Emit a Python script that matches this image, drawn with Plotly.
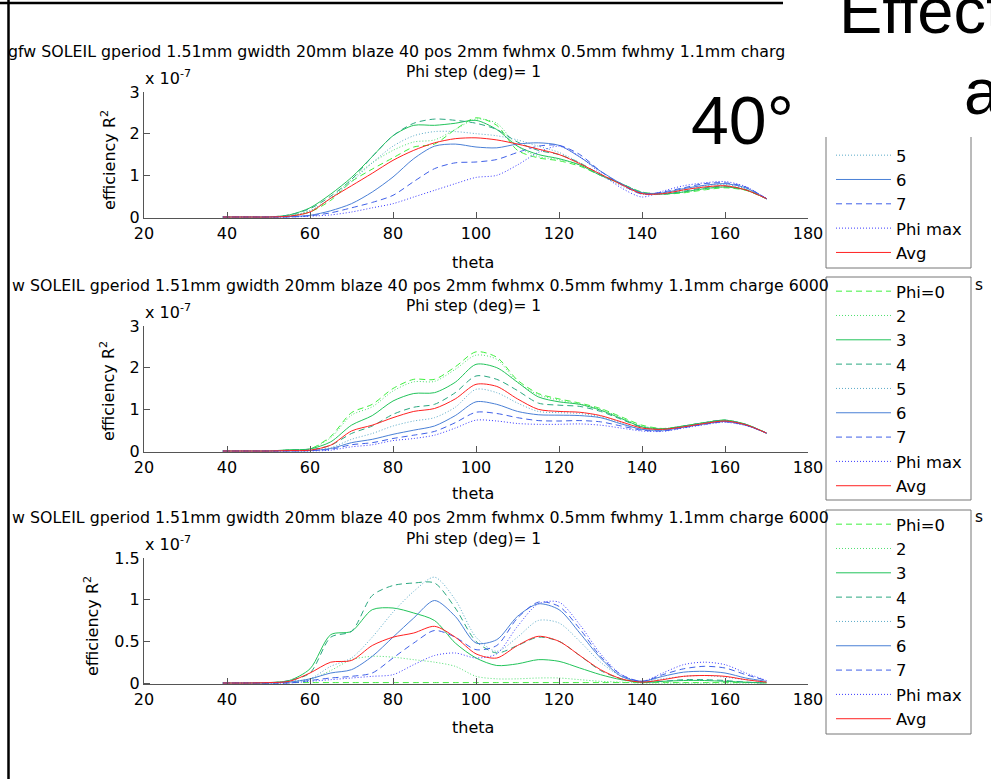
import plotly.graph_objects as go

W, H = 991, 779

# ---------------- data (efficiency R^2, units of 1e-7) ----------------
theta = [39, 45, 50, 55, 60, 65, 70, 75, 80, 85, 90, 95, 100, 105, 110, 115, 120,
         125, 130, 135, 140, 145, 150, 155, 160, 165, 170]

series_names = ["Phi=0", "2", "3", "4", "5", "6", "7", "Phi max", "Avg"]

p1_phi0 = [0, 0, 0, 0.02, 0.12, 0.40, 0.85, 1.15, 1.42, 1.68, 1.75, 2.10, 2.38, 2.20, 1.60, 1.42, 1.35, 1.22, 1.00, 0.80, 0.60, 0.55, 0.58, 0.65, 0.70, 0.64, 0.44]
p1_2    = [0, 0, 0, 0.03, 0.15, 0.45, 0.90, 1.30, 1.60, 1.80, 1.85, 2.10, 2.35, 2.25, 1.70, 1.45, 1.38, 1.25, 1.00, 0.80, 0.60, 0.55, 0.60, 0.67, 0.72, 0.65, 0.44]
p1_3    = [0, 0, 0, 0.05, 0.22, 0.55, 0.95, 1.45, 1.95, 2.20, 2.20, 2.25, 2.32, 2.10, 1.70, 1.50, 1.40, 1.25, 1.00, 0.80, 0.58, 0.55, 0.60, 0.68, 0.72, 0.65, 0.44]
p1_4    = [0, 0, 0, 0.05, 0.20, 0.50, 0.90, 1.45, 1.95, 2.25, 2.35, 2.32, 2.25, 2.10, 1.80, 1.60, 1.50, 1.30, 1.02, 0.80, 0.58, 0.55, 0.62, 0.70, 0.74, 0.66, 0.44]
p1_5    = [0, 0, 0, 0.03, 0.15, 0.45, 0.85, 1.30, 1.70, 1.95, 2.05, 2.05, 2.00, 1.95, 1.85, 1.70, 1.55, 1.30, 1.00, 0.75, 0.55, 0.55, 0.65, 0.75, 0.78, 0.68, 0.44]
p1_6    = [0, 0, 0, 0.01, 0.04, 0.15, 0.32, 0.60, 0.96, 1.40, 1.70, 1.75, 1.68, 1.66, 1.75, 1.78, 1.72, 1.44, 1.10, 0.80, 0.58, 0.58, 0.68, 0.76, 0.80, 0.70, 0.44]
p1_7    = [0, 0, 0, 0.00, 0.03, 0.10, 0.22, 0.35, 0.52, 0.85, 1.16, 1.30, 1.32, 1.38, 1.55, 1.70, 1.72, 1.50, 1.10, 0.78, 0.55, 0.60, 0.70, 0.80, 0.82, 0.72, 0.44]
p1_max  = [0, 0, 0, 0.00, 0.02, 0.05, 0.12, 0.22, 0.32, 0.48, 0.64, 0.80, 0.95, 1.00, 1.25, 1.55, 1.70, 1.45, 1.05, 0.70, 0.48, 0.62, 0.75, 0.82, 0.85, 0.73, 0.44]
p1_avg  = [0, 0, 0, 0.02, 0.12, 0.45, 0.75, 1.05, 1.36, 1.60, 1.78, 1.88, 1.90, 1.85, 1.75, 1.63, 1.50, 1.28, 1.03, 0.78, 0.56, 0.56, 0.65, 0.72, 0.75, 0.65, 0.44]

p2_phi0 = [0, 0, 0, 0.02, 0.05, 0.35, 0.92, 1.12, 1.50, 1.72, 1.72, 2.02, 2.38, 2.25, 1.70, 1.38, 1.25, 1.15, 1.02, 0.82, 0.62, 0.54, 0.60, 0.68, 0.74, 0.64, 0.43]
p2_2    = [0, 0, 0, 0.02, 0.05, 0.32, 0.86, 1.06, 1.44, 1.66, 1.67, 1.96, 2.30, 2.20, 1.65, 1.35, 1.22, 1.13, 1.00, 0.80, 0.60, 0.54, 0.60, 0.68, 0.74, 0.64, 0.43]
p2_3    = [0, 0, 0, 0.03, 0.05, 0.22, 0.62, 0.85, 1.20, 1.38, 1.40, 1.65, 2.08, 2.00, 1.65, 1.30, 1.18, 1.12, 0.98, 0.78, 0.58, 0.53, 0.60, 0.68, 0.74, 0.64, 0.43]
p2_4    = [0, 0, 0, 0.02, 0.03, 0.14, 0.42, 0.60, 0.88, 1.05, 1.12, 1.40, 1.80, 1.72, 1.45, 1.15, 1.10, 1.07, 0.95, 0.76, 0.57, 0.52, 0.60, 0.68, 0.74, 0.64, 0.43]
p2_5    = [0, 0, 0, 0.01, 0.02, 0.08, 0.28, 0.42, 0.60, 0.72, 0.80, 1.05, 1.48, 1.40, 1.15, 0.95, 0.92, 0.90, 0.82, 0.67, 0.52, 0.50, 0.58, 0.66, 0.72, 0.63, 0.43]
p2_6    = [0, 0, 0, 0.00, 0.01, 0.06, 0.20, 0.28, 0.40, 0.50, 0.60, 0.85, 1.18, 1.12, 0.95, 0.87, 0.86, 0.85, 0.80, 0.65, 0.52, 0.50, 0.57, 0.65, 0.71, 0.62, 0.43]
p2_7    = [0, 0, 0, 0.00, 0.01, 0.04, 0.15, 0.20, 0.30, 0.38, 0.47, 0.68, 0.93, 0.90, 0.80, 0.73, 0.72, 0.73, 0.70, 0.60, 0.50, 0.48, 0.56, 0.64, 0.70, 0.62, 0.43]
p2_max  = [0, 0, 0, 0.00, 0.00, 0.02, 0.10, 0.15, 0.25, 0.30, 0.38, 0.55, 0.74, 0.72, 0.66, 0.64, 0.64, 0.65, 0.62, 0.55, 0.48, 0.47, 0.55, 0.63, 0.69, 0.61, 0.43]
p2_avg  = [0, 0, 0, 0.01, 0.02, 0.14, 0.48, 0.62, 0.80, 0.95, 1.02, 1.25, 1.60, 1.55, 1.25, 1.00, 0.95, 0.93, 0.85, 0.70, 0.55, 0.52, 0.58, 0.66, 0.72, 0.63, 0.43]

p3_phi0 = [0, 0, 0, 0.005, 0.005, 0.005, 0.005, 0.005, 0.005, 0.005, 0.005, 0.005, 0.005, 0.005, 0.005, 0.005, 0.005, 0.005, 0.005, 0.005, 0.005, 0.005, 0.005, 0.005, 0.005, 0.005, 0.005]
p3_2    = [0, 0, 0, 0.02, 0.04, 0.15, 0.28, 0.32, 0.31, 0.28, 0.25, 0.20, 0.08, 0.05, 0.05, 0.06, 0.06, 0.04, 0.02, 0.01, 0, 0, 0, 0, 0, 0, 0]
p3_3    = [0, 0, 0.005, 0.03, 0.17, 0.58, 0.62, 0.88, 0.90, 0.84, 0.75, 0.48, 0.30, 0.21, 0.23, 0.28, 0.26, 0.18, 0.10, 0.04, 0.01, 0.02, 0.03, 0.03, 0.02, 0.01, 0]
p3_4    = [0, 0, 0, 0.03, 0.12, 0.55, 0.62, 1.05, 1.17, 1.20, 1.20, 0.90, 0.50, 0.36, 0.45, 0.55, 0.50, 0.33, 0.15, 0.05, 0.01, 0.02, 0.04, 0.04, 0.03, 0.01, 0]
p3_5    = [0, 0, 0, 0.02, 0.05, 0.20, 0.30, 0.55, 0.85, 1.10, 1.27, 1.00, 0.55, 0.38, 0.55, 0.75, 0.72, 0.50, 0.25, 0.08, 0.02, 0.05, 0.08, 0.09, 0.07, 0.04, 0.01]
p3_6    = [0, 0, 0, 0.01, 0.05, 0.12, 0.16, 0.32, 0.55, 0.78, 0.99, 0.80, 0.48, 0.52, 0.80, 0.95, 0.88, 0.60, 0.30, 0.08, 0.02, 0.08, 0.13, 0.14, 0.12, 0.06, 0.02]
p3_7    = [0, 0, 0, 0.00, 0.03, 0.06, 0.08, 0.12, 0.30, 0.48, 0.63, 0.55, 0.40, 0.45, 0.78, 0.97, 0.92, 0.65, 0.32, 0.10, 0.02, 0.10, 0.17, 0.20, 0.18, 0.10, 0.03]
p3_max  = [0, 0, 0, 0.00, 0.02, 0.04, 0.06, 0.08, 0.10, 0.22, 0.33, 0.36, 0.30, 0.35, 0.68, 0.95, 0.97, 0.70, 0.35, 0.10, 0.02, 0.12, 0.22, 0.25, 0.22, 0.12, 0.03]
p3_avg  = [0, 0, 0.005, 0.02, 0.12, 0.25, 0.27, 0.45, 0.55, 0.60, 0.68, 0.55, 0.35, 0.30, 0.45, 0.56, 0.50, 0.33, 0.16, 0.05, 0.01, 0.04, 0.08, 0.09, 0.08, 0.04, 0.01]

panel1 = [p1_phi0, p1_2, p1_3, p1_4, p1_5, p1_6, p1_7, p1_max, p1_avg]
panel2 = [p2_phi0, p2_2, p2_3, p2_4, p2_5, p2_6, p2_7, p2_max, p2_avg]
panel3 = [p3_phi0, p3_2, p3_3, p3_4, p3_5, p3_6, p3_7, p3_max, p3_avg]

x_ticks = [20, 40, 60, 80, 100, 120, 140, 160, 180]
y_ticks_12 = [0, 1, 2, 3]
y_ticks_3 = [0, 0.5, 1, 1.5]
y_ticktext_3 = ["0", "0.5", "1", "1.5"]

title_line1_p1 = "gfw SOLEIL gperiod 1.51mm gwidth 20mm blaze 40 pos 2mm fwhmx 0.5mm fwhmy 1.1mm charg"
title_line1_p23 = "w SOLEIL gperiod 1.51mm gwidth 20mm blaze 40 pos 2mm fwhmx 0.5mm fwhmy 1.1mm charge 6000"
title_line2 = "Phi step (deg)= 1"

# ---------------- styles ----------------
colors = ["#3ef03e", "#4ee070", "#22c45a", "#2aa880", "#5aaac8", "#4a80d6", "#3f60e8", "#3a3aff", "#ff2020"]
dashes = ["6px,4px", "1px,2px", "solid", "6px,4px", "1px,2px", "solid", "6px,4px", "1px,2px", "solid"]
FONT = "DejaVu Sans"


def px(x):
    return x / W


def py(y):
    return 1 - y / H


fig = go.Figure()

panels = [panel1, panel2, panel3]
legends = ["legend", "legend2", "legend3"]
for pi, pdata in enumerate(panels):
    xa = "x" if pi == 0 else f"x{pi + 1}"
    ya = "y" if pi == 0 else f"y{pi + 1}"
    for si, vals in enumerate(pdata):
        show = True
        if pi == 0 and si < 4:
            show = False
        fig.add_trace(go.Scatter(
            x=theta, y=vals, mode="lines", name=series_names[si],
            line=dict(color=colors[si], width=1, dash=dashes[si], shape="spline", smoothing=0.8),
            xaxis=xa, yaxis=ya, legend=legends[pi], showlegend=show,
        ))

# axes geometry (pixels)
x_left, x_right = 144, 808
panel_geo = [  # (y of top value, y of zero, top value)
    (92, 217, 3.0),
    (326, 451, 3.0),
    (558, 683, 1.5),
]

axis_common = dict(showline=True, linecolor="#555", linewidth=1, ticks="inside", ticklen=6,
                   tickcolor="#555", showgrid=False, zeroline=False, mirror=False,
                   tickfont=dict(family=FONT, size=16, color="black"))

layout_axes = {}
for pi, (ytop, yzero, vtop) in enumerate(panel_geo):
    scale = (yzero - ytop) / vtop
    vmin = -1.0 / scale
    ybot = yzero + 1
    sfx = "" if pi == 0 else str(pi + 1)
    layout_axes[f"xaxis{sfx}"] = dict(
        domain=[px(x_left), px(x_right)], range=[20, 180], tickvals=x_ticks,
        anchor=f"y{sfx}", ticklabelstandoff=1, **axis_common)
    yt = y_ticks_3 if pi == 2 else y_ticks_12
    ytt = y_ticktext_3 if pi == 2 else [str(v) for v in y_ticks_12]
    layout_axes[f"yaxis{sfx}"] = dict(
        domain=[py(ybot), py(ytop)], range=[vmin, vtop], tickvals=yt, ticktext=ytt,
        anchor=f"x{sfx}", ticklabelstandoff=0, **axis_common)

annotations = []


def ann(text, x, y, size=16, xanchor="center", yanchor="middle", family=FONT, angle=0):
    annotations.append(dict(text=text, x=px(x), y=py(y), xref="paper", yref="paper",
                            showarrow=False, xanchor=xanchor, yanchor=yanchor,
                            textangle=angle, font=dict(family=family, size=size, color="black")))


# titles
ann(title_line1_p1, 6, 51, size=15.8, xanchor="left")
ann(title_line1_p23, 10, 285, size=15.8, xanchor="left")
ann(title_line1_p23, 10, 517, size=15.8, xanchor="left")
ann("s", 979, 285, size=15.4)
ann("s", 979, 517, size=15.4)
for yv in (72, 306, 539):
    ann(title_line2, 473, yv, size=15.4)
# exponent labels
for yv in (77, 311, 543):
    ann("x 10<sup>-7</sup>", 143, yv, size=16, xanchor="left")
# y titles
ann("efficiency R<sup>2</sup>", 108, 160, angle=-90)
ann("efficiency R<sup>2</sup>", 108, 391, angle=-90)
ann("efficiency R<sup>2</sup>", 91, 626, angle=-90)
# x titles
for yv in (262, 493, 727):
    ann("theta", 473, yv)
# big slide text
ann("40°", 742, 120, size=68, family="Liberation Sans")
ann("Effect", 837, 11, size=65, xanchor="left", family="Liberation Sans")
ann("a", 962, 91, size=65, xanchor="left", family="Liberation Sans")

shapes = [
    # slide frame
    dict(type="line", xref="paper", yref="paper", x0=px(8.5), x1=px(8.5), y0=0, y1=1,
         line=dict(color="black", width=2.5)),
    dict(type="line", xref="paper", yref="paper", x0=0, x1=px(783), y0=py(3), y1=py(3),
         line=dict(color="black", width=2.5)),
    # legend boxes
    dict(type="path", xref="paper", yref="paper",
         path=f"M{px(826)},{py(137)} L{px(826)},{py(268)} L{px(971)},{py(268)} L{px(971)},{py(137)}",
         line=dict(color="#777", width=1)),
    dict(type="rect", xref="paper", yref="paper", x0=px(826), x1=px(971), y0=py(277), y1=py(500),
         line=dict(color="#777", width=1)),
    dict(type="rect", xref="paper", yref="paper", x0=px(826), x1=px(971), y0=py(510), y1=py(734),
         line=dict(color="#777", width=1)),
]

leg_common = dict(xanchor="left", yanchor="top", bgcolor="rgba(0,0,0,0)", borderwidth=0,
                  font=dict(family=FONT, size=16.4, color="black"), itemwidth=55,
                  tracegroupgap=0)

fig.update_layout(
    width=W, height=H, margin=dict(l=0, r=0, t=0, b=0, autoexpand=False),
    paper_bgcolor="white", plot_bgcolor="white",
    annotations=annotations, shapes=shapes,
    legend=dict(x=px(831), y=py(138), **leg_common),
    legend2=dict(x=px(831), y=py(274), **leg_common),
    legend3=dict(x=px(831), y=py(507), **leg_common),
    **layout_axes,
)

fig.write_html("out.html")
